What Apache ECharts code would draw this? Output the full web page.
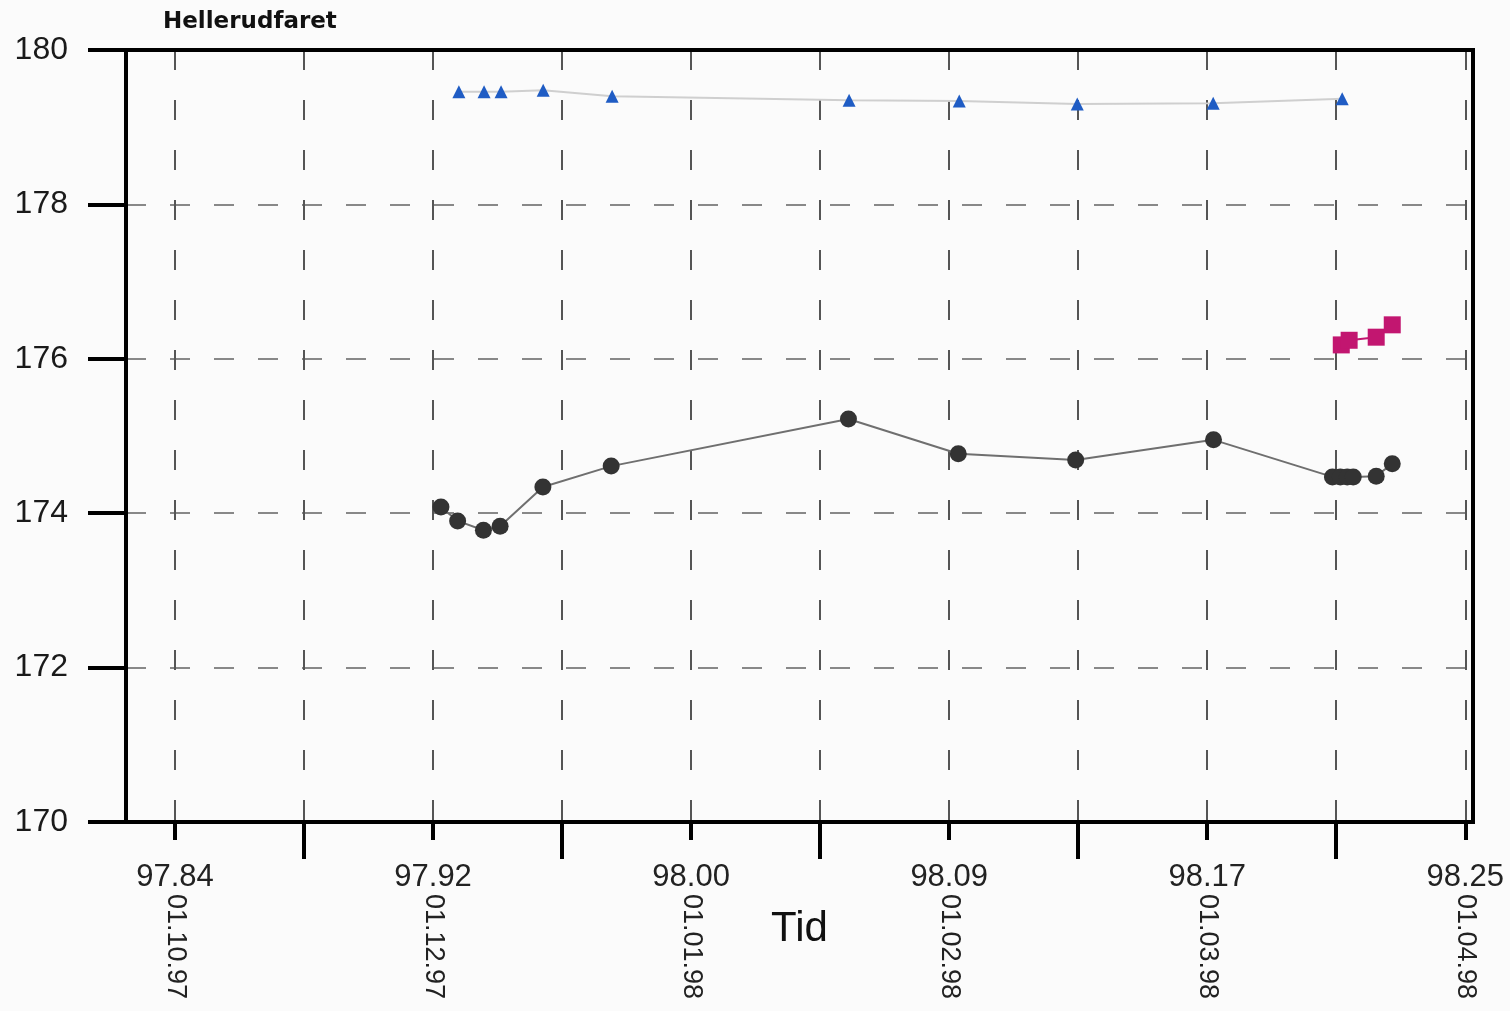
<!DOCTYPE html>
<html>
<head>
<meta charset="utf-8">
<script src="https://cdn.jsdelivr.net/npm/echarts@6/dist/echarts.min.js"></script>
<style>
html,body{margin:0;padding:0;background:#fbfbfb;}
#c{width:1510px;height:1011px;}
</style>
</head>
<body>
<div id="c"></div>
<script>
// Tick positions (decimal year) and labels
const labeledTicks = [97.84, 97.922, 98.004, 98.086, 98.168, 98.25];
const numberLabels = ['97.84', '97.92', '98.00', '98.09', '98.17', '98.25'];
const dateLabels = ['01.10.97', '01.12.97', '01.01.98', '01.02.98', '01.03.98', '01.04.98'];
const minorTicks = [97.881, 97.963, 98.045, 98.127, 98.209];
const yTicks = [170, 172, 174, 176, 178, 180];

// Series: circles (dark), triangles (blue), squares (magenta)
const circleX = [97.9245, 97.9298, 97.938, 97.9433, 97.9569, 97.9786, 98.054, 98.0889, 98.1262, 98.170, 98.2078, 98.2103, 98.2125, 98.2144, 98.2217, 98.2268];
const circleY = [174.08, 173.90, 173.78, 173.83, 174.34, 174.61, 175.22, 174.77, 174.69, 174.95, 174.47, 174.47, 174.47, 174.47, 174.48, 174.64];
const triX = [97.9302, 97.9382, 97.9436, 97.957, 97.9789, 98.0542, 98.0892, 98.1267, 98.1699, 98.2109];
const triY = [179.46, 179.46, 179.46, 179.48, 179.40, 179.35, 179.34, 179.30, 179.31, 179.37];
const sqX = [98.2106, 98.2131, 98.2217, 98.2268];
const sqY = [176.18, 176.24, 176.28, 176.44];

const xMin = 97.82442, xMax = 98.25246;
const zip = (a, b) => a.map((v, i) => [v, b[i]]);
const nearestIdx = (arr, v) => { let bi = 0, bd = Infinity; arr.forEach((t, i) => { const d = Math.abs(t - v); if (d < bd) { bd = d; bi = i; } }); return bi; };

const chart = echarts.init(document.getElementById('c'));
const baseX = {type: 'value', min: xMin, max: xMax, position: 'bottom', offset: 0};
chart.setOption({
  backgroundColor: '#fbfbfb',
  animation: false,
  title: {
    text: 'Hellerudfaret', left: 158, top: 6,
    textStyle: {fontFamily: 'DejaVu Sans', fontWeight: 'bold', fontSize: 23, color: '#111'}
  },
  grid: {left: 126, right: 37, top: 50, bottom: 189, show: true, borderColor: '#000', borderWidth: 4, backgroundColor: 'transparent'},
  xAxis: [
    Object.assign({}, baseX, {
      name: 'Tid', nameLocation: 'middle', nameGap: 86,
      nameTextStyle: {fontFamily: 'Liberation Sans', fontSize: 42, color: '#111'},
      axisLine: {show: true, lineStyle: {color: '#000', width: 4}},
      axisTick: {show: true, customValues: labeledTicks, length: 18, lineStyle: {color: '#000', width: 4}},
      axisLabel: {show: true, customValues: labeledTicks, margin: 40,
        formatter: v => numberLabels[nearestIdx(labeledTicks, v)],
        fontFamily: 'Liberation Sans', fontSize: 31, color: '#222'},
      splitLine: {show: true, lineStyle: {color: '#555', width: 2, type: [20, 30]}}
    }),
    Object.assign({}, baseX, {
      axisLine: {show: false},
      axisTick: {show: true, customValues: minorTicks, length: 37, lineStyle: {color: '#000', width: 4}},
      axisLabel: {show: false},
      splitLine: {show: true, lineStyle: {color: '#555', width: 2, type: [20, 30]}}
    }),
    Object.assign({}, baseX, {
      axisLine: {show: false},
      axisTick: {show: false},
      axisLabel: {show: true, customValues: labeledTicks, rotate: -90, margin: 72,
        formatter: v => dateLabels[nearestIdx(labeledTicks, v)],
        fontFamily: 'Liberation Sans', fontSize: 27, color: '#222'},
      splitLine: {show: false}
    }),
    Object.assign({}, baseX, {
      position: 'top', z: 10,
      axisLine: {show: true, lineStyle: {color: '#000', width: 4}},
      axisTick: {show: false}, axisLabel: {show: false}, splitLine: {show: false}
    })
  ],
  yAxis: {
    type: 'value', min: 170, max: 180, interval: 2,
    axisLine: {show: true, lineStyle: {color: '#000', width: 4}},
    axisTick: {show: true, length: 38, lineStyle: {color: '#000', width: 4}},
    axisLabel: {margin: 58, fontFamily: 'Liberation Sans', fontSize: 32, color: '#1a1a1a',
      formatter: v => String(yTicks[nearestIdx(yTicks, v)])},
    splitLine: {show: true, lineStyle: {color: '#888', width: 2, type: [20, 24]}}
  },
  series: [
    {
      type: 'line', name: 'tri', data: zip(triX, triY),
      symbol: 'triangle', symbolSize: 13,
      itemStyle: {color: '#1f5cc4'},
      lineStyle: {color: '#cfcfcf', width: 2}
    },
    {
      type: 'line', name: 'circ', data: zip(circleX, circleY),
      symbol: 'circle', symbolSize: 17,
      itemStyle: {color: '#333'},
      lineStyle: {color: '#6f6f6f', width: 2}
    },
    {
      type: 'line', name: 'sq', data: zip(sqX, sqY),
      symbol: 'rect', symbolSize: 17,
      itemStyle: {color: '#c21670'},
      lineStyle: {color: '#c21670', width: 2}
    }
  ]
});
</script>
</body>
</html>
